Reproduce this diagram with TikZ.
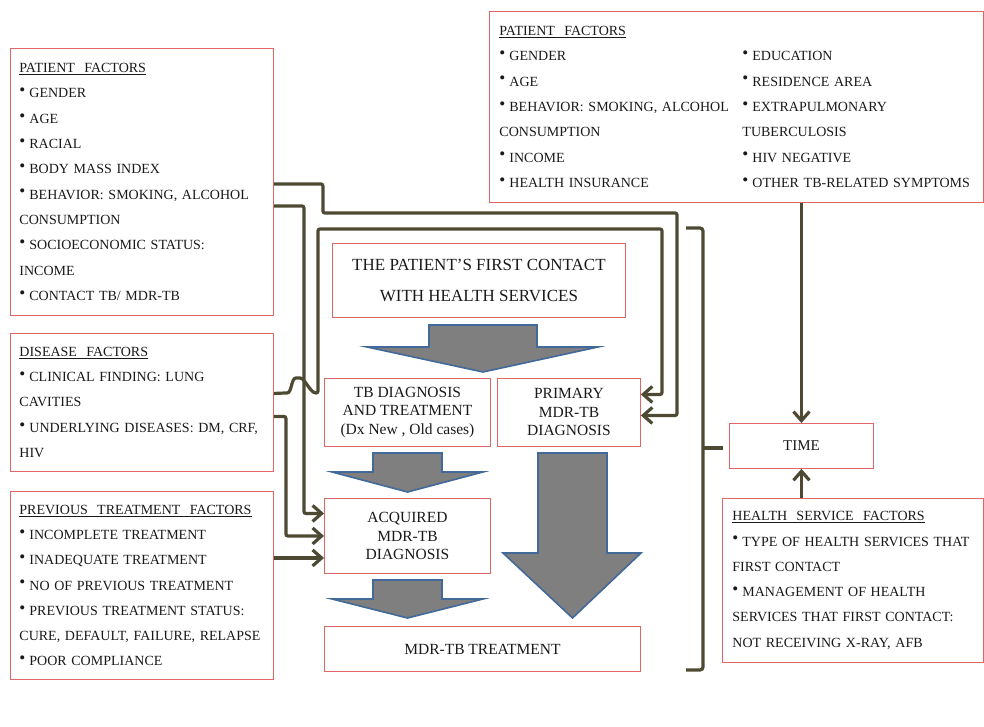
\documentclass[tikz,border=0pt]{standalone}
\usepackage{fontspec}
\setmainfont{Liberation Serif}
\definecolor{boxred}{HTML}{E06666}
\definecolor{linkolive}{HTML}{4D4933}
\definecolor{arrgray}{HTML}{7F7F7F}
\definecolor{arrblue}{HTML}{41699A}
\usepackage{tikz}
\usetikzlibrary{positioning,arrows.meta,calc}
\newcommand\bul{\raisebox{.35ex}{\fontsize{17}{17}\selectfont\textbullet}\hspace{4pt}}

\begin{document}
\begin{tikzpicture}[x=1pt,y=-1pt,every node/.style={text=black!90},
    box/.style={draw=boxred,line width=0.9pt,anchor=north west,inner sep=0pt,align=center},
    factbox/.style={box,align=left,inner xsep=9pt,font=\fontsize{14}{25.3}\selectfont},
    stagebox/.style={box,font=\fontsize{15.5}{18.5}\selectfont},
    conn/.style={draw=linkolive,line width=3.2pt,rounded corners=2pt,-{Straight Barb[length=9pt,width=16pt]}},
    brace/.style={draw=linkolive,line width=3.2pt,rounded corners=3pt},
    blockarr/.style={fill=arrgray,draw=arrblue,line width=1.6pt,line join=miter}]
  \useasboundingbox (0,0) rectangle (984,727);
  % factor boxes
  \node[factbox,minimum width=263,minimum height=267,text width=245] (pf) at (10,48)
    {\underline{PATIENT\ \ FACTORS}\\ \bul GENDER\\ \bul AGE\\ \bul RACIAL\\ \bul BODY MASS INDEX\\
     \bul BEHAVIOR: SMOKING, ALCOHOL\\ CONSUMPTION\\ \bul SOCIOECONOMIC STATUS:\\ INCOME\\ \bul CONTACT TB/ MDR-TB};
  \node[factbox,minimum width=263,minimum height=138,text width=245] (df) at (10,333)
    {\underline{DISEASE\ \ FACTORS}\\ \bul CLINICAL FINDING: LUNG\\ CAVITIES\\ \bul UNDERLYING DISEASES: DM, CRF,\\ HIV};
  \node[factbox,minimum width=263,minimum height=188,text width=245] (ptf) at (10,491)
    {\underline{PREVIOUS\ \ TREATMENT\ \ FACTORS}\\ \bul INCOMPLETE TREATMENT\\ \bul INADEQUATE TREATMENT\\
     \bul NO OF PREVIOUS TREATMENT\\ \bul PREVIOUS TREATMENT STATUS:\\ CURE, DEFAULT, FAILURE, RELAPSE\\ \bul POOR COMPLIANCE};
  \node[factbox,inner xsep=10pt,minimum width=494,minimum height=191,text width=474] (prf) at (489,11)
    {\begin{minipage}[t]{243pt}\raggedright
       \underline{PATIENT\ \ FACTORS}\\ \bul GENDER\\ \bul AGE\\ \bul BEHAVIOR: SMOKING, ALCOHOL\\ CONSUMPTION\\
       \bul INCOME\\ \bul HEALTH INSURANCE\end{minipage}%
     \begin{minipage}[t]{231pt}\raggedright
       \mbox{}\\ \bul EDUCATION\\ \bul RESIDENCE AREA\\ \bul EXTRAPULMONARY\\ TUBERCULOSIS\\
       \bul HIV NEGATIVE\\ \bul OTHER TB-RELATED SYMPTOMS\end{minipage}};
  \node[factbox,inner xsep=10pt,minimum width=261,minimum height=164,text width=241] (hsf) at (722,498)
    {\underline{HEALTH\ \ SERVICE\ \ FACTORS}\\ \bul TYPE OF HEALTH SERVICES THAT\\ FIRST CONTACT\\
     \bul MANAGEMENT OF HEALTH\\ SERVICES THAT FIRST CONTACT:\\ NOT RECEIVING X-RAY, AFB};
  % stages
  \node[box,font=\fontsize{17}{31}\selectfont,minimum width=293,minimum height=74] (first) at (332,243)
    {THE PATIENT'S FIRST CONTACT\\ WITH HEALTH SERVICES};
  \node[stagebox,minimum width=166,minimum height=68] (tbd) at (324,378)
    {TB DIAGNOSIS\\ AND TREATMENT\\ (Dx New , Old cases)};
  \node[stagebox,minimum width=143,minimum height=68] (prim) at (497,378)
    {PRIMARY\\ MDR-TB\\ DIAGNOSIS};
  \node[stagebox,minimum width=166,minimum height=75] (acq) at (324,498)
    {ACQUIRED\\ MDR-TB\\ DIAGNOSIS};
  \node[stagebox,minimum width=316,minimum height=45] (mdr) at (324,626) {MDR-TB TREATMENT};
  \node[stagebox,font=\fontsize{15}{18}\selectfont,minimum width=144,minimum height=45] (time) at (729,423) {TIME};
  % block arrows
  \draw[blockarr] (429,325) -- (537,325) -- (537,347) -- (598,347) -- (483,372) -- (367,347) -- (429,347) -- cycle;
  \draw[blockarr] (373,453) -- (442,453) -- (442,472) -- (483,472) -- (407.5,492) -- (332,472) -- (373,472) -- cycle;
  \draw[blockarr] (373,580) -- (442,580) -- (442,599) -- (483,599) -- (407.5,618) -- (332,599) -- (373,599) -- cycle;
  \draw[blockarr] (538,453) -- (607,453) -- (607,553) -- (641,553) -- (572.5,618) -- (503,553) -- (538,553) -- cycle;
  % links
  \draw[conn] ([yshift=-2pt]pf.east) -- ++(49,0) |- (677,213) |- ([yshift=-3pt]prim.east);
  \draw[conn] ([yshift=-24pt]pf.east) -- ++(30,0) |- ([yshift=22.5pt]acq.west);
  \draw[conn] ([yshift=9pt]df.east) -- (285,393) .. controls (292,393) and (291,378) .. (298,378)
    .. controls (305,378) and (310,393) .. (318,393) -- (318,229) -- (662,229) |- ([yshift=18pt]prim.east);
  \draw[conn] ([yshift=-14pt]df.east) -- ++(12,0) |- (acq.west);
  \draw[conn] ([yshift=27.5pt]ptf.east) -- ([yshift=-22pt]acq.west);
  \draw[conn] (time.north |- prf.south) -- (time.north);
  \draw[conn] (time.south |- hsf.north) -- (time.south);
  % brace
  \draw[brace] (686,228) -- (703,228) -- (703,670) -- (686,670);
  \draw[brace] (703,448) -- ([xshift=-6pt]time.west |- 0,448);
\end{tikzpicture}
\end{document}
